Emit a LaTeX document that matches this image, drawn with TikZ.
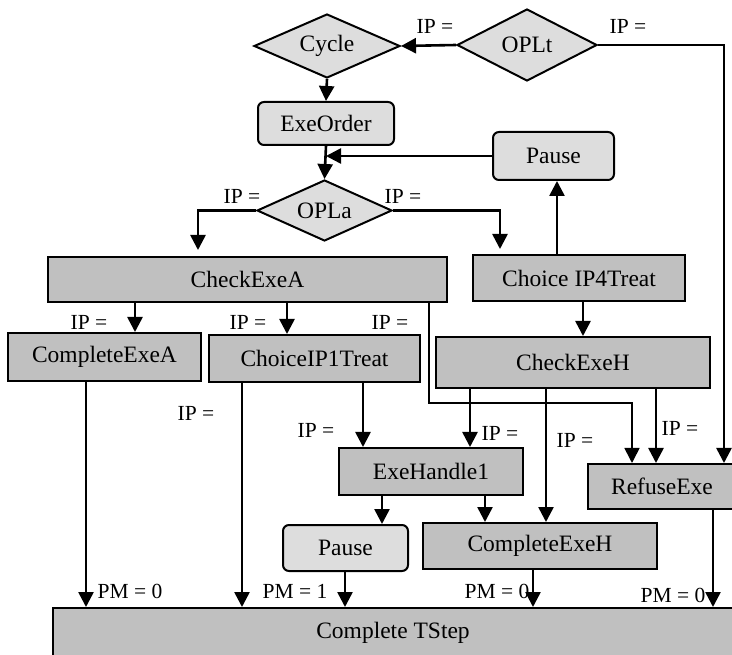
\documentclass[tikz,border=0pt]{standalone}
\usepackage{fontspec}
\setmainfont{Liberation Serif}
\usetikzlibrary{shapes.geometric,arrows.meta,calc}
\definecolor{boxgray}{HTML}{C0C0C0}
\definecolor{softgray}{HTML}{DDDDDD}
\begin{document}
\begin{tikzpicture}[x=1pt,y=-1pt,
  rbox/.style={draw, line width=2pt, fill=boxgray, inner sep=0pt, font=\fontsize{23.5}{27}\selectfont},
  soft/.style={draw, line width=2pt, fill=softgray, rounded corners=6pt, inner sep=0pt, font=\fontsize{23.5}{27}\selectfont},
  dia/.style={draw, line width=2pt, fill=softgray, shape=diamond, shape aspect=2, inner sep=0pt, font=\fontsize{23.5}{27}\selectfont},
  arr/.style={line width=2.6pt, -{Triangle[length=15pt,width=15pt]}},
  thinarr/.style={line width=1.6pt, -{Triangle[length=15pt,width=15pt]}},
  lbl/.style={inner sep=0pt, font=\fontsize{21.5}{24}\selectfont}
]
\useasboundingbox (0,0) rectangle (732,655);
\clip (0,0) rectangle (732,655);
\fill[white] (0,0) rectangle (732,655);

% nodes
\node[dia, minimum width=140pt, minimum height=72pt] (OPLt) at (527,45) {OPLt};
\node[dia, minimum width=146pt, minimum height=64pt] (Cycle) at (327,46) {Cycle};
\node[soft, minimum width=136pt, minimum height=43pt] (ExeOrder) at (326,123.5) {ExeOrder};
\node[soft, minimum width=121pt, minimum height=48pt] (Pause1) at (553.5,156) {Pause};
\node[dia, minimum width=135pt, minimum height=61pt] (OPLa) at (324.5,210.5) {OPLa};
\node[rbox, minimum width=399pt, minimum height=45pt] (CheckExeA) at (247.5,279.5) {CheckExeA};
\node[rbox, minimum width=212pt, minimum height=46pt] (ChoiceIP4) at (579,278) {Choice IP4Treat};
\node[rbox, minimum width=193pt, minimum height=48pt] (CompleteExeA) at (104.5,357) {CompleteExeA};
\node[rbox, minimum width=211pt, minimum height=47pt] (ChoiceIP1) at (314.5,358.5) {ChoiceIP1Treat};
\node[rbox, minimum width=274pt, minimum height=51pt] (CheckExeH) at (573,362.5) {CheckExeH};
\node[rbox, minimum width=184pt, minimum height=47pt] (ExeHandle1) at (431,471.5) {ExeHandle1};
\node[rbox, minimum width=148pt, minimum height=45pt] (RefuseExe) at (662,486.5) {RefuseExe};
\node[soft, minimum width=125pt, minimum height=46pt] (Pause2) at (345.5,548) {Pause};
\node[rbox, minimum width=234pt, minimum height=46pt] (CompleteExeH) at (540,546) {CompleteExeH};
\node[rbox, minimum width=680pt, minimum height=50pt] (TStep) at (393,633) {Complete TStep};

% guide coordinates
\coordinate (xT) at (724,0);
\coordinate (xL) at (198,0);
\coordinate (xR) at (500,0);
\coordinate (xP) at (557,0);
\coordinate (xA1) at (135,0);
\coordinate (xA2) at (287,0);
\coordinate (xA3) at (429,0);
\coordinate (yRoute) at (0,403);
\coordinate (xRE) at (632,0);
\coordinate (xH0) at (583,0);
\coordinate (xH1) at (470,0);
\coordinate (xH2) at (546,0);
\coordinate (xH3) at (656,0);
\coordinate (xC1) at (363,0);
\coordinate (xC0) at (242,0);
\coordinate (xE0) at (86,0);
\coordinate (xE1) at (382,0);
\coordinate (xE2) at (485,0);
\coordinate (xP2) at (345,0);
\coordinate (xCH) at (533,0);
\coordinate (xRF) at (713,0);

% connectors
\draw[arr] (OPLt.west) -- (Cycle.east);
\draw[arr] (OPLt.east) -| (xT |- RefuseExe.north);
\draw[arr] (Cycle.south) -- (ExeOrder.north);
\draw[arr] (ExeOrder.south) -- (OPLa.north);
\draw[arr] (Pause1.west) -- (ExeOrder.south |- Pause1.west);
\draw[arr, shorten >=6pt] (OPLa.west) -| (xL |- CheckExeA.north);
\draw[arr, shorten >=5pt] (OPLa.east) -| (xR |- ChoiceIP4.north);
\draw[arr] (xP |- ChoiceIP4.north) -- (xP |- Pause1.south);
\draw[arr] (xA1 |- CheckExeA.south) -- (xA1 |- CompleteExeA.north);
\draw[arr] (xA2 |- CheckExeA.south) -- (xA2 |- ChoiceIP1.north);
\draw[thinarr] (xA3 |- CheckExeA.south) -- (xA3 |- yRoute) -| (xRE |- RefuseExe.north);
\draw[arr] (xH0 |- ChoiceIP4.south) -- (xH0 |- CheckExeH.north);
\draw[arr] (xH1 |- CheckExeH.south) -- (xH1 |- ExeHandle1.north);
\draw[arr] (xH2 |- CheckExeH.south) -- (xH2 |- CompleteExeH.north);
\draw[arr] (xH3 |- CheckExeH.south) -- (xH3 |- RefuseExe.north);
\draw[arr] (xC1 |- ChoiceIP1.south) -- (xC1 |- ExeHandle1.north);
\draw[arr] (xC0 |- ChoiceIP1.south) -- (xC0 |- TStep.north);
\draw[arr] (xE0 |- CompleteExeA.south) -- (xE0 |- TStep.north);
\draw[arr] (xE1 |- ExeHandle1.south) -- (xE1 |- Pause2.north);
\draw[arr] (xE2 |- ExeHandle1.south) -- (xE2 |- CompleteExeH.north);
\draw[arr] (xP2 |- Pause2.south) -- (xP2 |- TStep.north);
\draw[arr] (xCH |- CompleteExeH.south) -- (xCH |- TStep.north);
\draw[arr] (xRF |- RefuseExe.south) -- (xRF |- TStep.north);

% labels
\node[lbl] (l1) at (435,26) {IP =};
\node[lbl] (l2) at (628,26) {IP =};
\node[lbl] (l3) at (242,196) {IP =};
\node[lbl] (l4) at (403,196) {IP =};
\node[lbl] (l5) at (89,322) {IP =};
\node[lbl] (l6) at (248,322) {IP =};
\node[lbl] (l7) at (390,322) {IP =};
\node[lbl] (l8) at (196,413) {IP =};
\node[lbl] (l9) at (316,430) {IP =};
\node[lbl] (l10) at (500,433) {IP =};
\node[lbl] (l11) at (575,440) {IP =};
\node[lbl] (l12) at (680,428) {IP =};
\node[lbl] (m1) at (130,591) {PM = 0};
\node[lbl] (m2) at (295,591) {PM = 1};
\node[lbl] (m3) at (497,591) {PM = 0};
\node[lbl] (m4) at (673,595) {PM = 0};
\end{tikzpicture}
\end{document}
